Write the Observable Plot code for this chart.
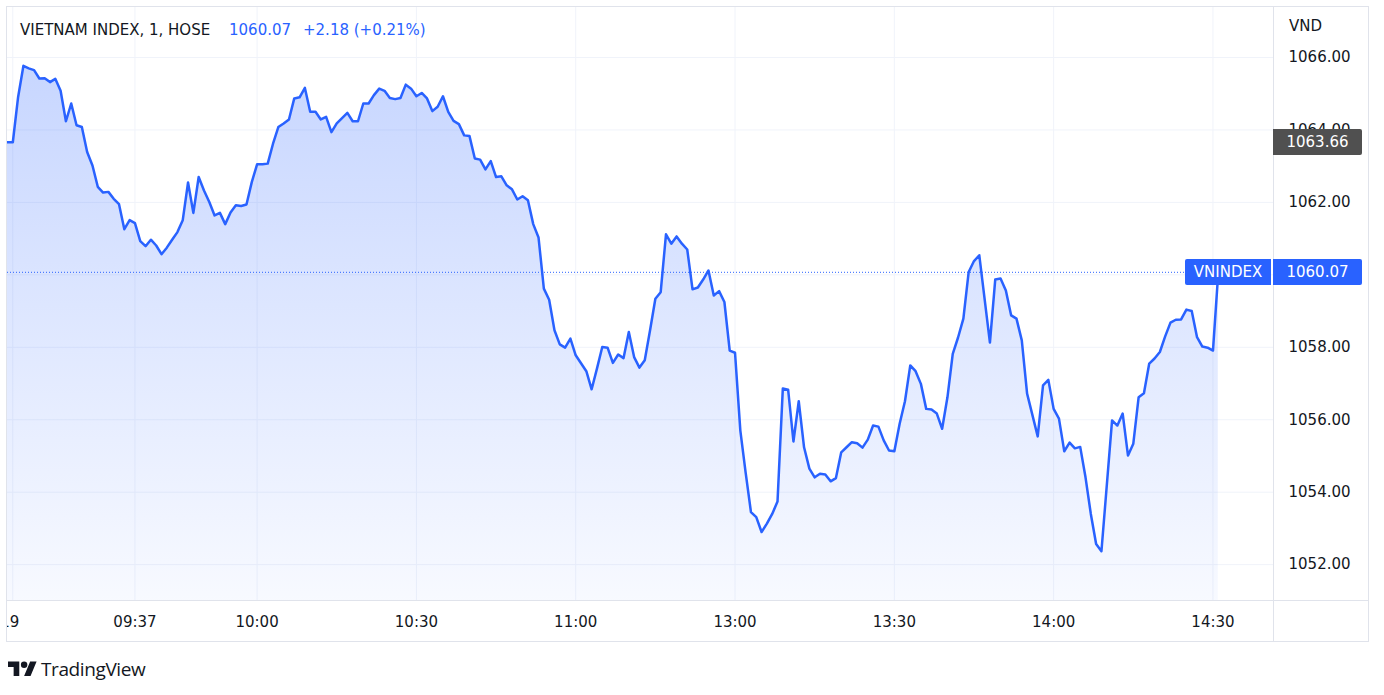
<!DOCTYPE html>
<html>
<head>
<meta charset="utf-8">
<script src="https://cdn.jsdelivr.net/npm/d3@7"></script>
<script src="https://cdn.jsdelivr.net/npm/@observablehq/plot@0.6"></script>
<style>
  html, body { margin: 0; padding: 0; background: #fff; }
  body { width: 1384px; height: 695px; position: relative; overflow: hidden;
         font-family: "DejaVu Sans", sans-serif; color: #131722; }
  .abs { position: absolute; white-space: nowrap; }
  #frame { left: 6px; top: 6px; width: 1361px; height: 634px; border: 1px solid #e0e3eb; }
  #chart { left: 7px; top: 7px; }
  .sep { background: #e0e3eb; }
  .hdr { top: 19px; font-size: 15px; line-height: 22px; }
  .lbl { height: 26px; line-height: 26px; color: #fff; font-size: 15px; text-align: center; }
</style>
</head>
<body>
<div id="frame" class="abs"></div>
<div id="chart" class="abs"></div>
<div class="abs sep" style="left:1273px;top:7px;width:1px;height:634px;"></div>
<div class="abs sep" style="left:7px;top:600px;width:1361px;height:1px;"></div>
<div id="overlay"></div>
<div class="abs" style="left:8px;top:658px;">
  <svg width="29" height="23" viewBox="0 0 36 28"><path fill="#131722" d="M14 22H7V11H0V4h14v18zM28 22h-8l7.5-18h8L28 22z"/><circle fill="#131722" cx="20" cy="8" r="4"/></svg>
</div>
<div class="abs" style="left:41px;top:655px;font-family:'Open Sans',sans-serif;font-size:19px;line-height:28px;letter-spacing:-0.4px;color:#131722;">TradingView</div>

<script>
// ---------- data ----------
const symbolTitle = "VIETNAM INDEX, 1, HOSE";
const lastPrice = 1060.07;
const changeText = "+2.18 (+0.21%)";
const markedPrice = 1063.66;
const seriesName = "VNINDEX";
const currency = "VND";

const times = [
  "09:13","09:14","09:15","09:16","09:17","09:18","09:19","09:20","09:21","09:22",
  "09:23","09:24","09:25","09:26","09:27","09:28","09:29","09:30","09:31","09:32",
  "09:33","09:34","09:35","09:36","09:37","09:38","09:39","09:40","09:41","09:42",
  "09:43","09:44","09:45","09:46","09:47","09:48","09:49","09:50","09:51","09:52",
  "09:53","09:54","09:55","09:56","09:57","09:58","09:59","10:00","10:01","10:02",
  "10:03","10:04","10:05","10:06","10:07","10:08","10:09","10:10","10:11","10:12",
  "10:13","10:14","10:15","10:17","10:18","10:19","10:20","10:21","10:22","10:23",
  "10:24","10:25","10:26","10:27","10:28","10:29","10:30","10:31","10:32","10:33",
  "10:34","10:35","10:36","10:37","10:38","10:39","10:40","10:41","10:42","10:43",
  "10:44","10:45","10:46","10:47","10:48","10:49","10:50","10:51","10:52","10:53",
  "10:54","10:55","10:56","10:57","10:58","10:59","11:00","11:01","11:02","11:03",
  "11:04","11:05","11:06","11:07","11:08","11:09","11:10","11:11","11:12","11:13",
  "11:14","11:15","11:16","11:17","11:18","11:19","11:20","11:21","11:22","11:23",
  "11:24","11:25","11:26","11:27","11:28","11:29",
  "13:00","13:01","13:02","13:03","13:04","13:05","13:06","13:07","13:08","13:09",
  "13:10","13:11","13:12","13:13","13:14","13:15","13:16","13:17","13:18","13:19",
  "13:20","13:21","13:22","13:23","13:24","13:25","13:26","13:27","13:28","13:29",
  "13:30","13:31","13:32","13:33","13:34","13:35","13:36","13:37","13:38","13:39",
  "13:40","13:41","13:42","13:43","13:44","13:45","13:46","13:48","13:49","13:50",
  "13:51","13:52","13:53","13:54","13:55","13:57","13:58","13:59","14:00","14:01",
  "14:02","14:03","14:04","14:05","14:06","14:07","14:08","14:09","14:11","14:12",
  "14:13","14:14","14:15","14:16","14:17","14:18","14:19","14:20","14:21","14:22",
  "14:23","14:24","14:25","14:26","14:27","14:28","14:29","14:30","14:45"
];
const values = [
  1063.66,1063.66,1064.91,1065.77,1065.70,1065.65,1065.42,1065.43,1065.32,1065.41,
  1065.08,1064.24,1064.73,1064.13,1064.08,1063.39,1063.02,1062.43,1062.27,1062.29,
  1062.10,1061.95,1061.26,1061.51,1061.43,1060.93,1060.79,1060.97,1060.81,1060.57,
  1060.75,1060.97,1061.18,1061.51,1062.55,1061.71,1062.70,1062.33,1062.01,1061.64,
  1061.71,1061.40,1061.72,1061.92,1061.90,1061.94,1062.56,1063.05,1063.05,1063.07,
  1063.62,1064.08,1064.18,1064.29,1064.87,1064.90,1065.16,1064.50,1064.50,1064.29,
  1064.36,1063.94,1064.18,1064.47,1064.24,1064.24,1064.73,1064.73,1064.96,1065.14,
  1065.08,1064.88,1064.85,1064.88,1065.25,1065.14,1064.93,1065.02,1064.87,1064.52,
  1064.64,1064.93,1064.50,1064.25,1064.16,1063.85,1063.83,1063.21,1063.18,1062.91,
  1063.14,1062.70,1062.72,1062.47,1062.36,1062.08,1062.17,1062.06,1061.40,1061.03,
  1059.62,1059.31,1058.47,1058.08,1057.99,1058.24,1057.78,1057.56,1057.34,1056.84,
  1057.41,1058.01,1057.99,1057.57,1057.80,1057.70,1058.42,1057.73,1057.44,1057.64,
  1058.47,1059.34,1059.52,1061.12,1060.86,1061.06,1060.86,1060.70,1059.60,1059.65,
  1059.87,1060.12,1059.43,1059.55,1059.25,1057.91,
  1057.85,1055.70,1054.54,1053.45,1053.31,1052.90,1053.13,1053.40,1053.74,1056.86,
  1056.83,1055.40,1056.51,1055.24,1054.65,1054.41,1054.51,1054.49,1054.30,1054.39,
  1055.10,1055.24,1055.38,1055.35,1055.23,1055.45,1055.84,1055.81,1055.43,1055.15,
  1055.13,1055.89,1056.51,1057.50,1057.34,1056.99,1056.30,1056.28,1056.17,1055.75,
  1056.62,1057.82,1058.27,1058.79,1060.08,1060.38,1060.54,1058.13,1059.87,1059.90,
  1059.57,1058.88,1058.79,1058.19,1056.72,1055.54,1056.95,1057.10,1056.30,1056.03,
  1055.13,1055.37,1055.21,1055.25,1054.41,1053.40,1052.57,1052.37,1055.98,1055.84,
  1056.17,1055.01,1055.34,1056.62,1056.73,1057.55,1057.69,1057.87,1058.30,1058.68,
  1058.76,1058.77,1059.04,1059.00,1058.28,1058.02,1057.99,1057.91,1060.07
];
const tickTimes  = ["09:14","09:37","10:00","10:30","11:00","13:00","13:30","14:00","14:30"];
const tickLabels = ["19","09:37","10:00","10:30","11:00","13:00","13:30","14:00","14:30"];
const priceTicks = [1052,1054,1056,1058,1060,1062,1064,1066];

// ---------- session time -> trading-minute index (lunch break and ATC compressed) ----------
function tradingMinute(s) {
  const [h, m] = s.split(":").map(Number);
  let raw = h * 60 + m;
  if (raw > 14 * 60 + 30) raw = 14 * 60 + 31;      // ATC bar follows 14:30
  let t = raw - 9 * 60;
  if (raw >= 13 * 60) t -= 90;                       // 11:30–13:00 lunch break
  return t;
}

const data = times.map((s, i) => ({time: s, t: tradingMinute(s), v: values[i]}));
const tickT = tickTimes.map(tradingMinute);
const labelByT = new Map(tickT.map((t, i) => [t, tickLabels[i]]));
const yDomain = [1051.01, 1067.38];
const FONT = '"DejaVu Sans", sans-serif';

const chart = Plot.plot({
  width: 1361, height: 634,
  marginLeft: 0, marginRight: 95, marginTop: 0, marginBottom: 41,
  style: {fontFamily: FONT, fontSize: "15px", color: "#131722", background: "#ffffff", overflow: "hidden"},
  x: {type: "linear", domain: [13, 251.4], axis: null},
  y: {type: "linear", domain: yDomain, axis: null},
  marks: [
    Plot.ruleX(tickT, {stroke: "#f0f3fa", strokeWidth: 1}),
    Plot.ruleY(priceTicks, {stroke: "#f0f3fa", strokeWidth: 1}),
    Plot.areaY(data, {x: "t", y1: yDomain[0], y2: "v", fill: "url(#vnArea)", curve: "linear"}),
    Plot.ruleY([lastPrice], {stroke: "#2962ff", strokeWidth: 1, strokeDasharray: "1 2"}),
    Plot.line(data, {x: "t", y: "v", stroke: "#2962ff", strokeWidth: 2.5, strokeLinejoin: "round", curve: "linear"}),
    Plot.axisX(tickT, {anchor: "bottom", tickSize: 0, tickPadding: 16, fontSize: 15, fill: "#131722",
                       tickFormat: d => labelByT.get(d), label: null}),
    Plot.axisY(priceTicks, {anchor: "right", tickSize: 0, tickPadding: 15, fontSize: 15, fill: "#131722",
                            tickFormat: d3.format(".2f"), label: null})
  ]
});
document.getElementById("chart").appendChild(chart);

// nudge the partially hidden date label ("19") toward the chart's left edge as in the reference
d3.select(chart).selectAll("text")
  .filter(function() { return this.textContent === tickLabels[0]; })
  .attr("dx", -3);

// gradient for the area fill
const ys = chart.scale("y");
const defs = d3.select(chart).insert("defs", ":first-child");
const grad = defs.append("linearGradient").attr("id", "vnArea")
  .attr("gradientUnits", "userSpaceOnUse")
  .attr("x1", 0).attr("x2", 0)
  .attr("y1", ys.apply(d3.max(values))).attr("y2", ys.apply(yDomain[0]));
grad.append("stop").attr("offset", 0).attr("stop-color", "#2962ff").attr("stop-opacity", 0.26);
grad.append("stop").attr("offset", 1).attr("stop-color", "#2962ff").attr("stop-opacity", 0.035);

// header and price labels (HTML, positioned with the chart's scale)
const ov = document.getElementById("overlay");
function add(html, style, cls) {
  const d = document.createElement("div");
  d.className = "abs " + (cls || "");
  d.setAttribute("style", style);
  d.innerHTML = html;
  ov.appendChild(d);
  return d;
}
add(symbolTitle, "left:20px;", "hdr");
add(d3.format(".2f")(lastPrice), "left:229px;color:#2962ff;", "hdr");
add(changeText, "left:303px;color:#2962ff;", "hdr");
add(currency, "left:1289px;top:15px;font-size:15px;line-height:22px;");

const yLast = 7 + ys.apply(lastPrice);
const yMark = 7 + ys.apply(markedPrice);
add(seriesName, `left:1185px;top:${yLast - 13}px;width:86px;background:#2962ff;border-radius:2px 0 0 2px;`, "lbl");
add(d3.format(".2f")(lastPrice), `left:1273px;top:${yLast - 13}px;width:89px;background:#2962ff;border-radius:0 2px 2px 0;`, "lbl");
add(d3.format(".2f")(markedPrice), `left:1273px;top:${yMark - 13}px;width:89px;background:#505050;border-radius:0 2px 2px 0;`, "lbl");
</script>
</body>
</html>
